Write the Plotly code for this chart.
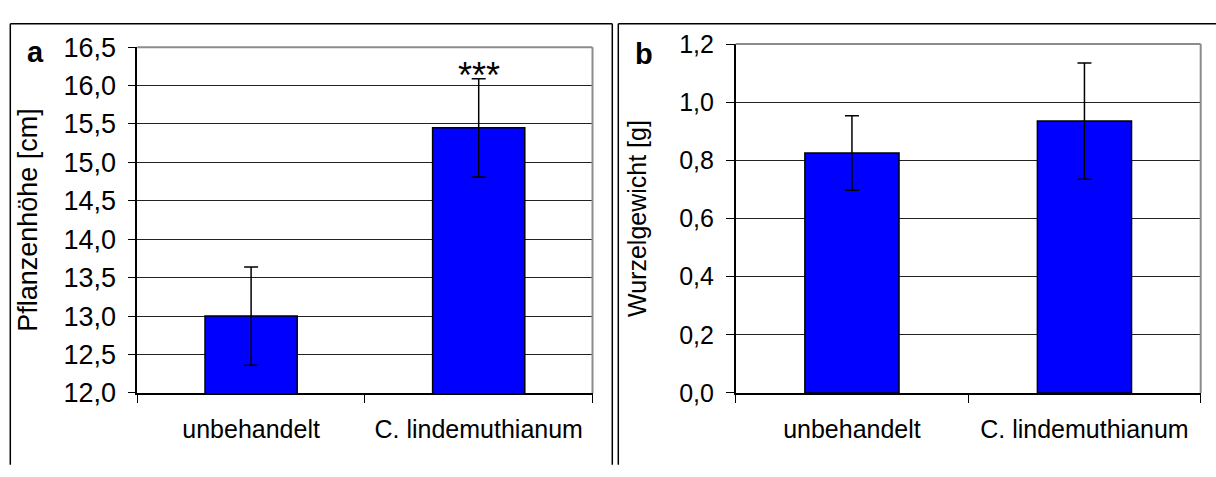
import plotly.graph_objects as go

categories = ["unbehandelt", "C. lindemuthianum"]
height_values = [13.0, 15.45]
height_errors = [0.64, 0.64]
root_values = [0.825, 0.935]
root_errors = [0.128, 0.2]
left_ticks = [12.0, 12.5, 13.0, 13.5, 14.0, 14.5, 15.0, 15.5, 16.0, 16.5]
right_ticks = [0.0, 0.2, 0.4, 0.6, 0.8, 1.0, 1.2]

W, H = 1216, 477
FONT = "Liberation Sans, Arial, sans-serif"

def px_x(p):
    return p / W

def px_y(p):
    return 1 - p / H

fig = go.Figure()

bar_style = dict(marker=dict(color="#0000FF", line=dict(color="black", width=1.5)),
                 width=0.405, showlegend=False, hoverinfo="skip")

fig.add_trace(go.Bar(x=categories, y=height_values, xaxis="x", yaxis="y",
                     error_y=dict(type="data", array=height_errors, color="black",
                                  thickness=1.5, width=7),
                     **bar_style))
fig.add_trace(go.Bar(x=categories, y=root_values, xaxis="x2", yaxis="y2",
                     error_y=dict(type="data", array=root_errors, color="black",
                                  thickness=1.5, width=7),
                     **bar_style))

xaxis_common = dict(showline=True, linecolor="black", linewidth=1.5,
                    ticks="outside", ticklen=8, tickcolor="black", tickwidth=1,
                    tickson="boundaries", showgrid=False, zeroline=False,
                    tickfont=dict(family=FONT, size=25, color="black"),
                    ticklabelstandoff=13, fixedrange=True)
yaxis_common = dict(showline=True, linecolor="black", linewidth=1.5,
                    ticks="outside", ticklen=8, tickcolor="black", tickwidth=1,
                    showgrid=True, gridcolor="#222222", gridwidth=1, zeroline=False,
                    tickformat=".1f", fixedrange=True)

L_x0, L_x1 = 137.3, 592.5
R_x0, R_x1 = 735.7, 1200.7
L_y0, L_y1 = 403.3, 34.3
R_y0, R_y1 = 403.3, 31.0

fig.update_layout(
    width=W, height=H, autosize=False,
    margin=dict(l=0, r=0, t=0, b=0, pad=0),
    paper_bgcolor="white", plot_bgcolor="white",
    separators=", ",
    bargap=0.595,
    font=dict(family=FONT, color="black"),
    xaxis=dict(domain=[px_x(L_x0), px_x(L_x1)], anchor="y", **xaxis_common),
    yaxis=dict(domain=[px_y(L_y0), px_y(L_y1)], anchor="x", range=[12, 16.5],
               tickvals=left_ticks, ticklabelstandoff=6,
               tickfont=dict(family=FONT, size=27, color="black"),
               title=dict(text="Pflanzenhöhe [cm]", font=dict(family=FONT, size=27, color="black"),
                          standoff=18),
               **yaxis_common),
    xaxis2=dict(domain=[px_x(R_x0), px_x(R_x1)], anchor="y2", **xaxis_common),
    yaxis2=dict(domain=[px_y(R_y0), px_y(R_y1)], anchor="x2", range=[0, 1.2],
                tickvals=right_ticks, ticklabelstandoff=7,
                tickfont=dict(family=FONT, size=25, color="black"),
                title=dict(text="Wurzelgewicht [g]", font=dict(family=FONT, size=25, color="black"),
                           standoff=25),
                **yaxis_common),
)

# plot-area borders (grey top and right edges)
for xr, yr in (("x domain", "y domain"), ("x2 domain", "y2 domain")):
    fig.add_shape(type="line", xref=xr, yref=yr, x0=0, x1=1, y0=1, y1=1,
                  line=dict(color="#8c8c8c", width=2))
    fig.add_shape(type="line", xref=xr, yref=yr, x0=1, x1=1, y0=0, y1=1,
                  line=dict(color="#8c8c8c", width=2))

# panel frames
frame = dict(color="black", width=1.5)
fig.add_shape(type="line", xref="paper", yref="paper", x0=px_x(10.3), x1=px_x(10.3),
              y0=px_y(9.3), y1=px_y(480), line=frame)
fig.add_shape(type="line", xref="paper", yref="paper", x0=px_x(10.3), x1=px_x(612.3),
              y0=px_y(9.3), y1=px_y(9.3), line=frame)
fig.add_shape(type="line", xref="paper", yref="paper", x0=px_x(612.3), x1=px_x(612.3),
              y0=px_y(9.3), y1=px_y(480), line=frame)
fig.add_shape(type="line", xref="paper", yref="paper", x0=px_x(618.3), x1=px_x(618.3),
              y0=px_y(9.3), y1=px_y(480), line=frame)
fig.add_shape(type="line", xref="paper", yref="paper", x0=px_x(618.3), x1=px_x(1220),
              y0=px_y(9.3), y1=px_y(9.3), line=frame)

# panel letters
fig.add_annotation(text="<b>a</b>", xref="paper", yref="paper", x=px_x(35.5), y=px_y(40),
                   xanchor="center", yanchor="middle", showarrow=False,
                   font=dict(family=FONT, size=29, color="black"))
fig.add_annotation(text="<b>b</b>", xref="paper", yref="paper", x=px_x(644), y=px_y(42),
                   xanchor="center", yanchor="middle", showarrow=False,
                   font=dict(family=FONT, size=29, color="black"))

# significance marker
fig.add_annotation(text="***", xref="x", yref="y", x=categories[1], y=16.13,
                   xanchor="center", yanchor="middle", showarrow=False,
                   font=dict(family=FONT, size=36, color="black"))

fig.write_html("out.html",
               post_script="document.body.style.margin='0';document.body.style.overflow='hidden';")
